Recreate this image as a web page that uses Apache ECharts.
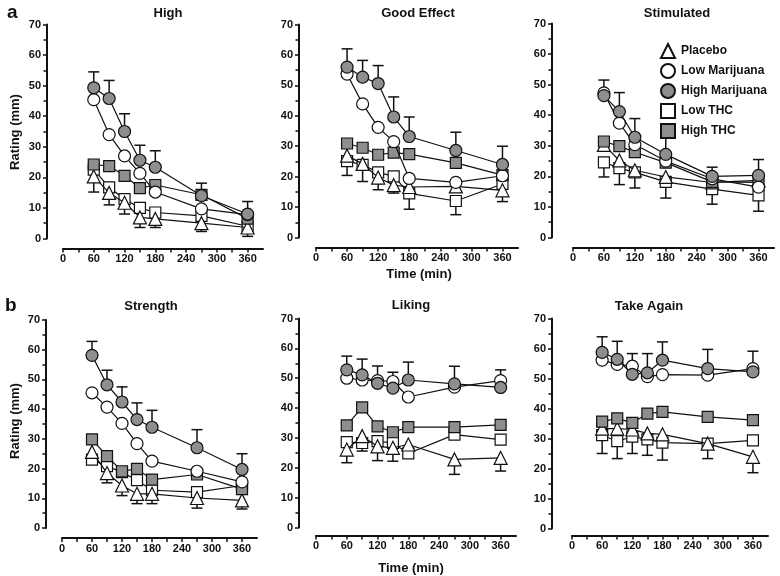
<!DOCTYPE html>
<html><head><meta charset="utf-8">
<script src="https://cdn.jsdelivr.net/npm/echarts@6/dist/echarts.min.js"></script>
<style>html,body{margin:0;padding:0;background:#fff}#c{width:780px;height:576px}</style>
</head><body><div id="c"></div>
<script>
// ---------------- DATA ----------------
const times = [60, 90, 120, 150, 180, 270, 360];
const seriesNames = ['Placebo', 'Low Marijuana', 'High Marijuana', 'Low THC', 'High THC'];
const xTicks = [0, 60, 120, 180, 240, 300, 360];
const yTicks = [0, 10, 20, 30, 40, 50, 60, 70];
const panelTitles = ['High', 'Good Effect', 'Stimulated', 'Strength', 'Liking', 'Take Again'];

// High
const high_placebo = [20.3, 14.9, 11.7, 6.9, 6.4, 5.0, 3.6];
const high_lowMj   = [45.4, 34.0, 27.0, 21.3, 15.2, 9.7, 7.8];
const high_highMj  = [49.3, 45.8, 35.0, 25.6, 23.3, 14.0, 8.0];
const high_lowTHC  = [22.5, 16.7, 12.9, 10.0, 8.5, 7.4, 4.0];
const high_highTHC = [24.2, 23.7, 20.5, 16.5, 17.5, 14.3, 6.5];
const high_errTop    = [54.5, 51.7, 40.8, 30.5, 28.7, 18.1, 12.1];
const high_errBottom = [15.2, 11.0, 8.0, 3.6, 3.6, 2.3, 0.7];

// Good Effect
const good_placebo = [26.9, 24.2, 19.7, 17.2, 16.6, 16.8, 15.5];
const good_lowMj   = [53.7, 43.9, 36.2, 31.5, 19.4, 18.1, 20.3];
const good_highMj  = [56.0, 52.7, 50.6, 39.6, 33.2, 28.6, 24.0];
const good_lowTHC  = [25.1, 23.9, 21.4, 20.1, 14.5, 12.0, 17.6];
const good_highTHC = [30.9, 29.5, 27.2, 27.9, 27.4, 24.5, 20.5];
const good_errTop    = [62.0, 58.2, 56.5, 46.2, 39.6, 34.6, 30.0];
const good_errBottom = [20.4, 18.4, 15.7, 14.6, 9.3, 7.5, 11.8];

// Stimulated (no 150 min point)
const stim_placebo = [30.3, 25.2, 22.0, null, 19.8, 18.0, 18.7];
const stim_lowMj   = [47.3, 37.4, 30.4, null, 25.0, 19.2, 16.5];
const stim_highMj  = [46.4, 41.2, 32.8, null, 27.2, 20.0, 20.3];
const stim_lowTHC  = [24.6, 22.7, 21.3, null, 18.2, 15.8, 13.8];
const stim_highTHC = [31.4, 29.9, 27.9, null, 24.5, 18.2, 18.0];
const stim_errTop    = [51.5, 47.4, 38.9, null, 33.0, 23.0, 25.5];
const stim_errBottom = [19.8, 17.3, 16.2, null, 12.9, 10.9, 8.6];

// Strength
const str_placebo = [25.6, 18.5, 14.3, 11.5, 11.5, 10.1, 9.3];
const str_lowMj   = [45.5, 40.7, 35.2, 28.4, 22.5, 19.1, 15.5];
const str_highMj  = [58.1, 48.2, 42.4, 36.5, 33.9, 27.0, 19.7];
const str_lowTHC  = [23.0, 20.8, 18.8, 16.1, 12.7, 12.1, 14.3];
const str_highTHC = [29.8, 24.2, 19.1, 19.9, 16.3, 18.0, 13.1];
const str_errTop    = [62.8, 53.1, 47.5, 42.1, 39.6, 33.1, 25.0];
const str_errBottom = [null, 15.2, 10.9, 8.2, 8.2, 6.7, 6.4];

// Liking
const lik_placebo = [26.1, 30.6, 27.2, 26.7, 27.8, 22.8, 23.3];
const lik_lowMj   = [50.0, 49.4, 49.2, 48.9, 43.7, 47.0, 49.2];
const lik_highMj  = [52.8, 51.1, 48.3, 46.7, 49.4, 48.1, 46.9];
const lik_lowTHC  = [28.6, 28.3, 28.9, 28.3, 24.8, 31.1, 29.4];
const lik_highTHC = [34.2, 40.2, 33.9, 31.9, 33.6, 33.6, 34.4];
const lik_errTop    = [57.4, 56.4, 54.1, 52.0, 55.4, 54.0, 52.8];
const lik_errBottom = [21.7, 25.6, 22.4, 22.2, 23.5, 17.8, 18.9];

// Take Again
const take_placebo = [33.3, 33.3, 33.0, 31.7, 31.4, 28.3, 23.9];
const take_lowMj   = [56.1, 54.7, 54.1, 50.6, 51.3, 51.1, 53.3];
const take_highMj  = [58.7, 56.4, 51.4, 51.9, 56.1, 53.3, 52.2];
const take_lowTHC  = [31.1, 29.1, 30.6, 29.7, 28.6, 28.3, 29.4];
const take_highTHC = [35.6, 36.7, 35.2, 38.3, 38.9, 37.2, 36.1];
const take_errTop    = [63.9, 62.4, 58.3, 58.3, 62.2, 59.7, 59.1];
const take_errBottom = [25.0, 23.3, 25.0, 24.4, 22.8, 23.3, 18.6];

// ---------------- ASSEMBLY ----------------
const panels = [
  {series: [high_placebo, high_lowMj, high_highMj, high_lowTHC, high_highTHC], top: high_errTop, bottom: high_errBottom},
  {series: [good_placebo, good_lowMj, good_highMj, good_lowTHC, good_highTHC], top: good_errTop, bottom: good_errBottom},
  {series: [stim_placebo, stim_lowMj, stim_highMj, stim_lowTHC, stim_highTHC], top: stim_errTop, bottom: stim_errBottom},
  {series: [str_placebo, str_lowMj, str_highMj, str_lowTHC, str_highTHC], top: str_errTop, bottom: str_errBottom},
  {series: [lik_placebo, lik_lowMj, lik_highMj, lik_lowTHC, lik_highTHC], top: lik_errTop, bottom: lik_errBottom},
  {series: [take_placebo, take_lowMj, take_highMj, take_lowTHC, take_highTHC], top: take_errTop, bottom: take_errBottom}
];

// layout (pixels)
const layout = [
  {left: 63,  top: 24.5, width: 200, height: 214, xOff: 10, yOff: 16, tx: 168, ty: 13},
  {left: 316, top: 24.5, width: 202, height: 213, xOff: 10, yOff: 17, tx: 418, ty: 13},
  {left: 573, top: 23.5, width: 201, height: 214, xOff: 10, yOff: 21, tx: 677, ty: 13},
  {left: 62,  top: 320,  width: 195, height: 208, xOff: 10, yOff: 16, tx: 151, ty: 306},
  {left: 316, top: 318.5,width: 200, height: 209, xOff: 8,  yOff: 17, tx: 411, ty: 305},
  {left: 572, top: 318.5,width: 196, height: 210, xOff: 7,  yOff: 20, tx: 649, ty: 306}
];

const FONT = '"Liberation Sans", Arial, Helvetica, sans-serif';
const INK = '#111';
const GRAY = '#8e8e8e';
const symStyles = [
  {symbol: 'triangle', fill: '#fff', size: 13},
  {symbol: 'circle', fill: '#fff', size: 12},
  {symbol: 'circle', fill: GRAY, size: 12},
  {symbol: 'rect', fill: '#fff', size: 11},
  {symbol: 'rect', fill: GRAY, size: 11}
];

const grid = [], xAxis = [], yAxis = [], series = [], graphic = [];
const drawOrder = [3, 0, 4, 1, 2];

layout.forEach((L, p) => {
  grid.push({left: L.left, top: L.top, width: L.width, height: L.height, containLabel: false});
  xAxis.push({
    type: 'value', gridIndex: p, min: 0, max: 390, interval: 30, offset: L.xOff,
    axisLine: {show: true, onZero: false, lineStyle: {color: INK, width: 2}},
    axisTick: {show: true, length: 4, lineStyle: {color: INK, width: 1.5}},
    splitLine: {show: false},
    axisLabel: {color: INK, fontFamily: FONT, fontWeight: 'bold', fontSize: 11, margin: 5,
      showMaxLabel: false,
      formatter: v => (xTicks.indexOf(v) >= 0 ? String(v) : '')}
  });
  yAxis.push({
    type: 'value', gridIndex: p, min: 0, max: 70, interval: 10, offset: L.yOff,
    axisLine: {show: true, onZero: false, lineStyle: {color: INK, width: 2}},
    axisTick: {show: true, length: 4, lineStyle: {color: INK, width: 1.5}},
    minorTick: {show: true, splitNumber: 2, length: 3.5, lineStyle: {color: INK, width: 1.5}},
    splitLine: {show: false},
    axisLabel: {color: INK, fontFamily: FONT, fontWeight: 'bold', fontSize: 11, margin: 6,
      formatter: v => (yTicks.indexOf(v) >= 0 ? String(v) : '')}
  });

  const P = panels[p];
  // error bars
  const errData = [];
  times.forEach((t, i) => {
    const vals = P.series.map(s => s[i]).filter(v => v != null);
    if (!vals.length) return;
    if (P.top[i] != null) errData.push([t, Math.max(...vals), P.top[i]]);
    if (P.bottom[i] != null) errData.push([t, Math.min(...vals), P.bottom[i]]);
  });
  series.push({
    type: 'custom', xAxisIndex: p, yAxisIndex: p, z: 1, silent: true,
    data: errData, encode: {x: 0, y: [1, 2]},
    renderItem: (params, api) => {
      const a = api.coord([api.value(0), api.value(1)]);
      const b = api.coord([api.value(0), api.value(2)]);
      const st = {stroke: INK, lineWidth: 1.5};
      return {type: 'group', children: [
        {type: 'line', shape: {x1: a[0], y1: a[1], x2: b[0], y2: b[1]}, style: st},
        {type: 'line', shape: {x1: b[0] - 5.5, y1: b[1], x2: b[0] + 5.5, y2: b[1]}, style: st}
      ]};
    }
  });
  drawOrder.forEach((k, j) => {
    const S = symStyles[k];
    const data = [];
    times.forEach((t, i) => { if (P.series[k][i] != null) data.push([t, P.series[k][i]]); });
    series.push({
      type: 'line', name: seriesNames[k], xAxisIndex: p, yAxisIndex: p,
      data: data, symbol: S.symbol, symbolSize: S.size, showAllSymbol: true,
      z: 2 + j, animation: false,
      lineStyle: {color: INK, width: 1.2},
      itemStyle: {color: S.fill, borderColor: INK, borderWidth: 1.2, opacity: 1},
      emphasis: {disabled: true}
    });
  });
  graphic.push({type: 'text', x: L.tx, y: L.ty, style: {text: panelTitles[p], font: 'bold 13px ' + FONT, fill: INK, textAlign: 'center', textVerticalAlign: 'middle'}});
});

graphic.push({type: 'text', x: 7, y: 13, style: {text: 'a', font: 'bold 19px ' + FONT, fill: INK, textAlign: 'left', textVerticalAlign: 'middle'}});
graphic.push({type: 'text', x: 5, y: 306, style: {text: 'b', font: 'bold 19px ' + FONT, fill: INK, textAlign: 'left', textVerticalAlign: 'middle'}});
graphic.push({type: 'text', x: 15, y: 132, rotation: Math.PI / 2, style: {text: 'Rating (mm)', font: 'bold 13px ' + FONT, fill: INK, textAlign: 'center', textVerticalAlign: 'middle'}});
graphic.push({type: 'text', x: 15, y: 421, rotation: Math.PI / 2, style: {text: 'Rating (mm)', font: 'bold 13px ' + FONT, fill: INK, textAlign: 'center', textVerticalAlign: 'middle'}});
graphic.push({type: 'text', x: 419, y: 274, style: {text: 'Time (min)', font: 'bold 13px ' + FONT, fill: INK, textAlign: 'center', textVerticalAlign: 'middle'}});
graphic.push({type: 'text', x: 411, y: 568, style: {text: 'Time (min)', font: 'bold 13px ' + FONT, fill: INK, textAlign: 'center', textVerticalAlign: 'middle'}});

const legend = {
  orient: 'vertical', left: 655, top: 38, itemWidth: 14, itemHeight: 14, itemGap: 4,
  selectedMode: false,
  textStyle: {color: INK, fontFamily: FONT, fontWeight: 'bold', fontSize: 12, padding: [0, 0, 0, 1]},
  data: seriesNames.map((n, k) => ({name: n, icon: symStyles[k].symbol}))
};

const chart = echarts.init(document.getElementById('c'), null, {renderer: 'canvas'});
chart.setOption({animation: false, backgroundColor: '#fff', grid, xAxis, yAxis, series, graphic, legend});
</script></body></html>
